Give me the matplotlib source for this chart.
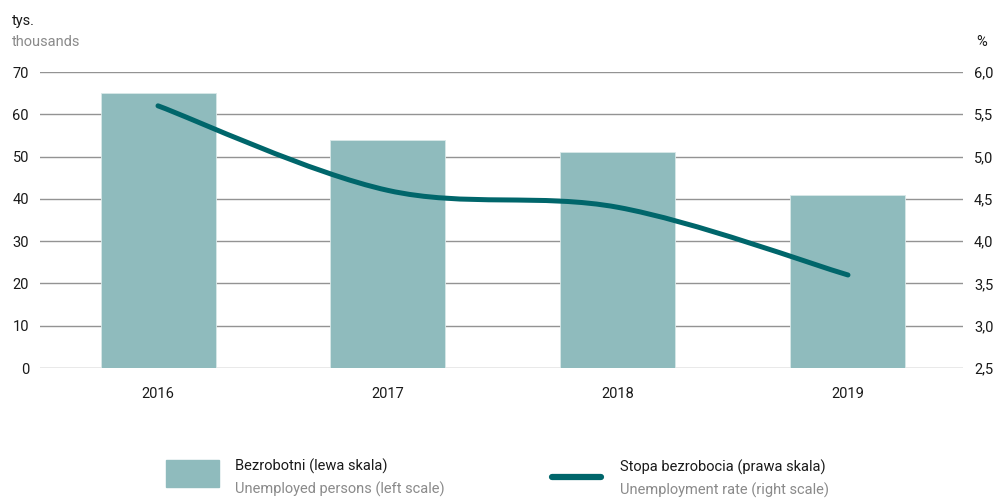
import numpy as np
import matplotlib
matplotlib.use("Agg")
import matplotlib.pyplot as plt
from matplotlib.path import Path
from matplotlib.patches import PathPatch, Rectangle
from matplotlib.lines import Line2D

years = ["2016", "2017", "2018", "2019"]
unemployed = [65, 54, 51, 41]          # tys. / thousands
rate = [5.6, 4.6, 4.4, 3.6]            # %

left_ticks = [0, 10, 20, 30, 40, 50, 60, 70]
right_ticks = [2.5, 3.0, 3.5, 4.0, 4.5, 5.0, 5.5, 6.0]
right_labels = ["2,5", "3,0", "3,5", "4,0", "4,5", "5,0", "5,5", "6,0"]

bar_col = "#8fbbbd"
line_col = "#00666b"
grid_col = "#939393"
txt_col = "#1a1a1a"
sub_col = "#8a8a8a"

plt.rcParams['font.family'] = ['Roboto', 'DejaVu Sans']
fs = 10.5
plt.rcParams['font.size'] = fs

fig = plt.figure(figsize=(9.98, 4.99), dpi=100)
ax = fig.add_axes([0.0401, 0.2625, 0.9248, 0.5932])
x = np.arange(len(years))

ax.set_ylim(0, 70)
ax.set_xlim(-0.513, 3.5)
ax.set_yticks(left_ticks)
for v in left_ticks:
    ax.axhline(v, color=grid_col, lw=1.0, zorder=1)
ax.bar(x, unemployed, width=0.5, color=bar_col, edgecolor="#d8e8e8", lw=0.6, zorder=2)
ax.set_xticks(x)
ax.set_xticklabels(years, color=txt_col)
ax.tick_params(axis='x', length=0, pad=14)
ax.tick_params(axis='y', length=0, pad=8, labelcolor=txt_col)
for s in ax.spines.values():
    s.set_visible(False)

ax2 = ax.twinx()
ax2.set_ylim(2.5, 6.0)
ax2.set_yticks(right_ticks)
ax2.set_yticklabels(right_labels)
ax2.tick_params(axis='y', length=0, pad=8, labelcolor=txt_col)
for s in ax2.spines.values():
    s.set_visible(False)

# smoothed line (Bezier through the points, like a spreadsheet "smooth line")
pts = list(zip(x.astype(float), rate))
ext = [pts[0]] + pts + [pts[-1]]
verts = [pts[0]]
codes = [Path.MOVETO]
for i in range(len(pts) - 1):
    p0, p1, p2, p3 = ext[i], ext[i + 1], ext[i + 2], ext[i + 3]
    c1 = (p1[0] + (p2[0] - p0[0]) / 6, p1[1] + (p2[1] - p0[1]) / 6)
    c2 = (p2[0] - (p3[0] - p1[0]) / 6, p2[1] - (p3[1] - p1[1]) / 6)
    verts += [c1, c2, p2]
    codes += [Path.CURVE4] * 3
ax2.add_patch(PathPatch(Path(verts, codes), fill=False, edgecolor=line_col,
                        lw=3.6, capstyle='round', zorder=3))

# axis unit labels
fig.text(0.012, 0.958, "tys.", color=txt_col, fontsize=fs, va='center')
fig.text(0.012, 0.916, "thousands", color=sub_col, fontsize=fs, va='center')
fig.text(0.978, 0.916, "%", color=txt_col, fontsize=fs, va='center')

# legend
fig.add_artist(Rectangle((166 / 998, 1 - 487 / 499), 53 / 998, 27 / 499,
                         transform=fig.transFigure, color=bar_col))
fig.text(235 / 998, 1 - 466 / 499, "Bezrobotni (lewa skala)", color=txt_col, fontsize=fs, va='center')
fig.text(235 / 998, 1 - 489 / 499, "Unemployed persons (left scale)", color=sub_col, fontsize=fs, va='center')
fig.add_artist(Line2D([552 / 998, 601 / 998], [1 - 477 / 499, 1 - 477 / 499],
                      transform=fig.transFigure, color=line_col, lw=4.5, solid_capstyle='round'))
fig.text(620 / 998, 1 - 467 / 499, "Stopa bezrobocia (prawa skala)", color=txt_col, fontsize=fs, va='center')
fig.text(620 / 998, 1 - 490 / 499, "Unemployment rate (right scale)", color=sub_col, fontsize=fs, va='center')

fig.savefig("out.png", dpi=100)
